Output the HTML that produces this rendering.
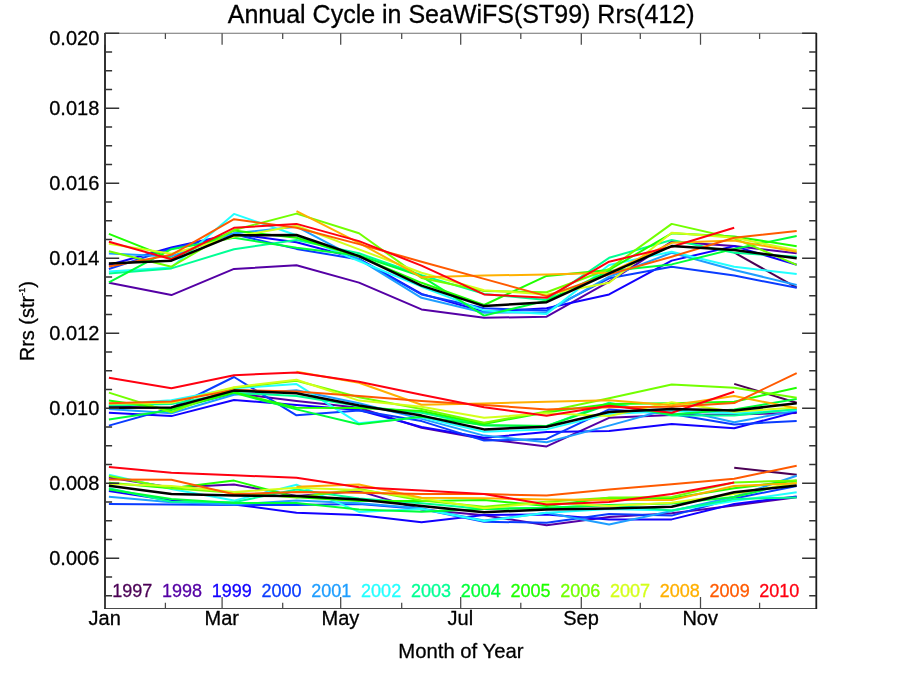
<!DOCTYPE html>
<html><head><meta charset="utf-8"><title>Annual Cycle in SeaWiFS(ST99) Rrs(412)</title>
<style>
html,body{margin:0;padding:0;background:#fff;}
body{width:900px;height:675px;overflow:hidden;position:relative;font-family:"Liberation Sans",sans-serif;}
svg{position:absolute;left:0;top:0;will-change:transform;}
text{font-family:"Liberation Sans",sans-serif;fill:#000;stroke:#000;stroke-width:0.3;}
.ax{stroke:#1c1c1c;stroke-width:1.8;fill:none;}
.axh{stroke:#707070;stroke-width:1.05;fill:none;}
.axb{stroke:#4a4a4a;stroke-width:1.2;fill:none;}
.tk{stroke:#333;stroke-width:1.4;fill:none;}
.tkx{stroke:#4a4a4a;stroke-width:1.25;fill:none;}
.ln{fill:none;stroke-width:2.0;stroke-linejoin:round;stroke-linecap:butt;}
.mn{fill:none;stroke:#000;stroke-width:2.5;stroke-linejoin:round;}
</style></head><body>
<svg width="900" height="675" viewBox="0 0 900 675">
<rect x="0" y="0" width="900" height="675" fill="#fff"/>

<g id="lines">
<polyline class="ln" stroke="#4b0055" points="734.2,252.5 796.7,287.6"/>
<polyline class="ln" stroke="#5500a5" points="108.9,282.8 171.4,295.1 234.0,268.9 296.5,265.3 359.0,282.6 421.5,309.4 484.1,317.8 546.6,316.7 609.1,281.7 671.7,241.7 734.2,246.1 796.7,253.3"/>
<polyline class="ln" stroke="#1200ff" points="108.9,265.0 171.4,247.5 234.0,233.7 296.5,242.2 359.0,258.9 421.5,293.9 484.1,311.7 546.6,308.3 609.1,294.4 671.7,260.6 734.2,246.1 796.7,264.8"/>
<polyline class="ln" stroke="#0a3cff" points="108.9,269.0 171.4,248.5 234.0,234.2 296.5,248.9 359.0,259.5 421.5,294.5 484.1,308.3 546.6,310.6 609.1,278.3 671.7,266.7 734.2,275.6 796.7,287.8"/>
<polyline class="ln" stroke="#1e9eff" points="108.9,253.4 171.4,256.4 234.0,233.3 296.5,226.7 359.0,259.4 421.5,297.8 484.1,312.8 546.6,312.2 609.1,276.7 671.7,252.8 734.2,270.0 796.7,285.0"/>
<polyline class="ln" stroke="#22ffff" points="108.9,271.4 171.4,267.5 234.0,213.9 296.5,235.3 359.0,261.0 421.5,286.7 484.1,310.6 546.6,313.9 609.1,265.0 671.7,251.7 734.2,266.7 796.7,273.9"/>
<polyline class="ln" stroke="#00ff94" points="108.9,273.4 171.4,268.4 234.0,249.2 296.5,240.0 359.0,253.3 421.5,275.3 484.1,293.9 546.6,300.0 609.1,257.8 671.7,240.0 734.2,252.8 796.7,256.7"/>
<polyline class="ln" stroke="#00ff38" points="108.9,282.3 171.4,249.2 234.0,237.8 296.5,247.8 359.0,255.5 421.5,276.3 484.1,315.6 546.6,300.6 609.1,271.0 671.7,264.4 734.2,248.9 796.7,236.1"/>
<polyline class="ln" stroke="#1eff00" points="108.9,233.9 171.4,258.7 234.0,230.6 296.5,237.8 359.0,256.5 421.5,282.8 484.1,305.0 546.6,275.9 609.1,270.0 671.7,233.3 734.2,236.4 796.7,246.3"/>
<polyline class="ln" stroke="#72ff00" points="108.9,251.2 171.4,266.7 234.0,230.0 296.5,213.6 359.0,233.3 421.5,278.0 484.1,291.1 546.6,292.2 609.1,269.0 671.7,223.9 734.2,238.3 796.7,264.8"/>
<polyline class="ln" stroke="#d4ff1a" points="108.9,243.8 171.4,253.7 234.0,236.7 296.5,225.8 359.0,249.4 421.5,272.8 484.1,290.3 546.6,294.4 609.1,282.8 671.7,232.8 734.2,237.8 796.7,250.3"/>
<polyline class="ln" stroke="#ffb000" points="296.5,211.1 359.0,242.8 421.5,277.2 484.1,275.6 546.6,274.4 609.1,272.8 671.7,242.8 734.2,240.6 796.7,251.7"/>
<polyline class="ln" stroke="#ff5a00" points="108.9,266.6 171.4,254.8 234.0,219.2 296.5,227.8 359.0,244.1 421.5,261.7 484.1,278.9 546.6,296.1 609.1,274.4 671.7,256.7 734.2,237.8 796.7,231.1"/>
<polyline class="ln" stroke="#ff0010" points="108.9,241.7 171.4,259.2 234.0,227.8 296.5,223.9 359.0,241.1 421.5,265.6 484.1,294.4 546.6,297.8 609.1,261.7 671.7,246.7 734.2,227.8"/>
<polyline class="mn" points="108.9,263.4 171.4,260.7 234.0,235.2 296.5,235.0 359.0,256.1 421.5,285.6 484.1,306.1 546.6,302.2 609.1,273.3 671.7,246.1 734.2,250.0 796.7,258.3"/>
<polyline class="ln" stroke="#4b0055" points="734.2,383.9 796.7,402.8"/>
<polyline class="ln" stroke="#5500a5" points="108.9,406.3 171.4,408.5 234.0,393.3 296.5,401.1 359.0,407.8 421.5,427.8 484.1,438.9 546.6,446.4 609.1,417.8 671.7,415.0 734.2,414.4 796.7,413.1"/>
<polyline class="ln" stroke="#1200ff" points="108.9,412.8 171.4,416.1 234.0,400.0 296.5,405.0 359.0,410.0 421.5,427.0 484.1,437.8 546.6,432.0 609.1,430.9 671.7,423.9 734.2,428.3 796.7,411.7"/>
<polyline class="ln" stroke="#0a3cff" points="108.9,425.6 171.4,408.0 234.0,377.0 296.5,415.3 359.0,410.5 421.5,421.1 484.1,440.6 546.6,438.9 609.1,409.4 671.7,413.9 734.2,424.4 796.7,420.9"/>
<polyline class="ln" stroke="#1e9eff" points="108.9,408.9 171.4,413.3 234.0,394.8 296.5,390.3 359.0,403.3 421.5,418.9 484.1,435.6 546.6,442.2 609.1,425.6 671.7,408.3 734.2,422.2 796.7,410.6"/>
<polyline class="ln" stroke="#22ffff" points="108.9,404.4 171.4,400.3 234.0,388.3 296.5,384.1 359.0,423.3 421.5,417.2 484.1,431.7 546.6,429.4 609.1,413.9 671.7,411.0 734.2,413.3 796.7,410.0"/>
<polyline class="ln" stroke="#00ff94" points="108.9,405.5 171.4,403.9 234.0,392.8 296.5,396.1 359.0,406.0 421.5,412.8 484.1,425.6 546.6,426.1 609.1,402.8 671.7,415.6 734.2,415.6 796.7,408.9"/>
<polyline class="ln" stroke="#00ff38" points="108.9,419.4 171.4,410.0 234.0,392.8 296.5,409.4 359.0,424.2 421.5,416.7 484.1,425.0 546.6,426.0 609.1,404.5 671.7,414.5 734.2,409.4 796.7,398.9"/>
<polyline class="ln" stroke="#1eff00" points="108.9,400.6 171.4,409.4 234.0,392.2 296.5,407.8 359.0,408.0 421.5,411.0 484.1,423.9 546.6,412.2 609.1,403.9 671.7,403.3 734.2,401.7 796.7,387.8"/>
<polyline class="ln" stroke="#72ff00" points="108.9,392.6 171.4,412.2 234.0,387.8 296.5,380.8 359.0,397.2 421.5,408.9 484.1,422.8 546.6,411.4 609.1,398.3 671.7,384.4 734.2,387.8 796.7,397.8"/>
<polyline class="ln" stroke="#d4ff1a" points="108.9,403.8 171.4,402.8 234.0,387.2 296.5,379.7 359.0,400.6 421.5,406.7 484.1,417.8 546.6,413.3 609.1,416.1 671.7,402.2 734.2,411.7 796.7,407.5"/>
<polyline class="ln" stroke="#ffb000" points="296.5,371.7 359.0,382.8 421.5,404.7 484.1,403.6 546.6,401.7 609.1,400.2 671.7,405.3 734.2,396.1 796.7,408.3"/>
<polyline class="ln" stroke="#ff5a00" points="108.9,403.3 171.4,401.4 234.0,390.0 296.5,391.4 359.0,396.1 421.5,400.9 484.1,405.0 546.6,409.4 609.1,407.2 671.7,406.7 734.2,403.1 796.7,373.1"/>
<polyline class="ln" stroke="#ff0010" points="108.9,377.8 171.4,388.3 234.0,375.2 296.5,372.6 359.0,381.7 421.5,394.7 484.1,407.2 546.6,415.8 609.1,405.8 671.7,412.8 734.2,391.7"/>
<polyline class="mn" points="108.9,407.8 171.4,407.4 234.0,390.6 296.5,393.3 359.0,405.6 421.5,415.6 484.1,429.4 546.6,426.7 609.1,412.0 671.7,409.1 734.2,410.6 796.7,403.3"/>
<polyline class="ln" stroke="#4b0055" points="734.2,467.8 796.7,474.7"/>
<polyline class="ln" stroke="#5500a5" points="108.9,477.6 171.4,487.6 234.0,484.4 296.5,496.0 359.0,491.1 421.5,509.5 484.1,515.3 546.6,525.2 609.1,517.0 671.7,513.3 734.2,505.6 796.7,497.2"/>
<polyline class="ln" stroke="#1200ff" points="108.9,491.1 171.4,500.6 234.0,504.4 296.5,512.8 359.0,515.0 421.5,522.2 484.1,515.0 546.6,514.4 609.1,519.4 671.7,519.4 734.2,503.9 796.7,496.5"/>
<polyline class="ln" stroke="#0a3cff" points="108.9,503.9 171.4,504.4 234.0,505.0 296.5,505.0 359.0,504.0 421.5,509.0 484.1,521.7 546.6,522.8 609.1,513.9 671.7,515.6 734.2,498.5 796.7,485.9"/>
<polyline class="ln" stroke="#1e9eff" points="108.9,496.7 171.4,502.2 234.0,504.4 296.5,500.6 359.0,503.3 421.5,508.3 484.1,520.6 546.6,512.8 609.1,524.4 671.7,511.0 734.2,496.7 796.7,475.8"/>
<polyline class="ln" stroke="#22ffff" points="108.9,474.7 171.4,488.9 234.0,500.6 296.5,484.7 359.0,511.9 421.5,508.9 484.1,521.1 546.6,512.8 609.1,509.0 671.7,510.6 734.2,501.1 796.7,492.2"/>
<polyline class="ln" stroke="#00ff94" points="108.9,488.3 171.4,501.7 234.0,502.2 296.5,489.4 359.0,498.5 421.5,503.3 484.1,508.9 546.6,507.8 609.1,505.0 671.7,510.6 734.2,498.9 796.7,497.6"/>
<polyline class="ln" stroke="#00ff38" points="108.9,489.4 171.4,498.9 234.0,503.1 296.5,503.1 359.0,509.4 421.5,511.7 484.1,508.9 546.6,508.0 609.1,505.0 671.7,503.5 734.2,497.0 796.7,482.0"/>
<polyline class="ln" stroke="#1eff00" points="108.9,482.8 171.4,488.3 234.0,480.6 296.5,497.2 359.0,501.1 421.5,501.1 484.1,500.0 546.6,506.0 609.1,497.8 671.7,498.3 734.2,488.3 796.7,480.6"/>
<polyline class="ln" stroke="#72ff00" points="108.9,476.1 171.4,488.3 234.0,492.8 296.5,497.5 359.0,489.0 421.5,500.6 484.1,506.7 546.6,501.7 609.1,497.8 671.7,497.0 734.2,482.4 796.7,480.6"/>
<polyline class="ln" stroke="#d4ff1a" points="108.9,483.9 171.4,486.1 234.0,492.0 296.5,487.8 359.0,490.0 421.5,498.3 484.1,508.3 546.6,502.5 609.1,506.1 671.7,502.8 734.2,493.9 796.7,482.8"/>
<polyline class="ln" stroke="#ffb000" points="296.5,486.7 359.0,484.4 421.5,497.8 484.1,498.3 546.6,499.4 609.1,500.0 671.7,500.0 734.2,486.1 796.7,483.3"/>
<polyline class="ln" stroke="#ff5a00" points="108.9,479.4 171.4,479.8 234.0,494.2 296.5,492.0 359.0,492.8 421.5,493.9 484.1,494.1 546.6,495.6 609.1,489.4 671.7,484.2 734.2,478.7 796.7,465.8"/>
<polyline class="ln" stroke="#ff0010" points="108.9,467.0 171.4,472.8 234.0,475.3 296.5,477.8 359.0,487.2 421.5,490.6 484.1,494.1 546.6,504.4 609.1,502.0 671.7,493.9 734.2,482.4"/>
<polyline class="mn" points="108.9,485.8 171.4,493.9 234.0,495.6 296.5,496.1 359.0,499.4 421.5,506.1 484.1,512.2 546.6,509.4 609.1,508.6 671.7,506.7 734.2,492.2 796.7,485.6"/>
</g>
<g id="axes">
<path class="axh" d="M104.4 33.3H816.9"/>
<path class="axb" d="M104.4 608.5H816.9"/>
<path class="ax" d="M105.0 32.9V609.0M816.3 32.9V609.0"/>
<path class="tkx" d="M105.0 608.5v-11.5M105.0 33.3v11.5"/>
<path class="tkx" d="M165.4 608.5v-5.8M165.4 33.3v5.8"/>
<path class="tkx" d="M222.1 608.5v-11.5M222.1 33.3v11.5"/>
<path class="tkx" d="M282.7 608.5v-5.8M282.7 33.3v5.8"/>
<path class="tkx" d="M340.7 608.5v-11.5M340.7 33.3v11.5"/>
<path class="tkx" d="M401.7 608.5v-5.8M401.7 33.3v5.8"/>
<path class="tkx" d="M460.7 608.5v-11.5M460.7 33.3v11.5"/>
<path class="tkx" d="M520.8 608.5v-5.8M520.8 33.3v5.8"/>
<path class="tkx" d="M581.3 608.5v-11.5M581.3 33.3v11.5"/>
<path class="tkx" d="M640.3 608.5v-5.8M640.3 33.3v5.8"/>
<path class="tkx" d="M700.5 608.5v-11.5M700.5 33.3v11.5"/>
<path class="tkx" d="M759.6 608.5v-5.8M759.6 33.3v5.8"/>
<path class="tk" d="M105.0 595.8h7.1M816.3 595.8h-7.1"/>
<path class="tk" d="M105.0 577.0h7.1M816.3 577.0h-7.1"/>
<path class="tk" d="M105.0 558.3h14.2M816.3 558.3h-14.2"/>
<path class="tk" d="M105.0 539.5h7.1M816.3 539.5h-7.1"/>
<path class="tk" d="M105.0 520.8h7.1M816.3 520.8h-7.1"/>
<path class="tk" d="M105.0 502.0h7.1M816.3 502.0h-7.1"/>
<path class="tk" d="M105.0 483.3h14.2M816.3 483.3h-14.2"/>
<path class="tk" d="M105.0 464.5h7.1M816.3 464.5h-7.1"/>
<path class="tk" d="M105.0 445.8h7.1M816.3 445.8h-7.1"/>
<path class="tk" d="M105.0 427.0h7.1M816.3 427.0h-7.1"/>
<path class="tk" d="M105.0 408.3h14.2M816.3 408.3h-14.2"/>
<path class="tk" d="M105.0 389.5h7.1M816.3 389.5h-7.1"/>
<path class="tk" d="M105.0 370.8h7.1M816.3 370.8h-7.1"/>
<path class="tk" d="M105.0 352.0h7.1M816.3 352.0h-7.1"/>
<path class="tk" d="M105.0 333.3h14.2M816.3 333.3h-14.2"/>
<path class="tk" d="M105.0 314.5h7.1M816.3 314.5h-7.1"/>
<path class="tk" d="M105.0 295.8h7.1M816.3 295.8h-7.1"/>
<path class="tk" d="M105.0 277.0h7.1M816.3 277.0h-7.1"/>
<path class="tk" d="M105.0 258.3h14.2M816.3 258.3h-14.2"/>
<path class="tk" d="M105.0 239.5h7.1M816.3 239.5h-7.1"/>
<path class="tk" d="M105.0 220.8h7.1M816.3 220.8h-7.1"/>
<path class="tk" d="M105.0 202.0h7.1M816.3 202.0h-7.1"/>
<path class="tk" d="M105.0 183.3h14.2M816.3 183.3h-14.2"/>
<path class="tk" d="M105.0 164.5h7.1M816.3 164.5h-7.1"/>
<path class="tk" d="M105.0 145.8h7.1M816.3 145.8h-7.1"/>
<path class="tk" d="M105.0 127.0h7.1M816.3 127.0h-7.1"/>
<path class="tk" d="M105.0 108.3h14.2M816.3 108.3h-14.2"/>
<path class="tk" d="M105.0 89.5h7.1M816.3 89.5h-7.1"/>
<path class="tk" d="M105.0 70.8h7.1M816.3 70.8h-7.1"/>
<path class="tk" d="M105.0 52.0h7.1M816.3 52.0h-7.1"/>
<path class="tk" d="M105.0 33.3h14.2M816.3 33.3h-14.2"/>
</g>
<g id="labels">
<text x="461.2" y="23.4" font-size="25" text-anchor="middle">Annual Cycle in SeaWiFS(ST99) Rrs(412)</text>
<text x="99.3" y="564.6" font-size="20" text-anchor="end">0.006</text>
<text x="99.3" y="489.6" font-size="20" text-anchor="end">0.008</text>
<text x="99.3" y="414.6" font-size="20" text-anchor="end">0.010</text>
<text x="99.3" y="339.6" font-size="20" text-anchor="end">0.012</text>
<text x="99.3" y="264.6" font-size="20" text-anchor="end">0.014</text>
<text x="99.3" y="189.6" font-size="20" text-anchor="end">0.016</text>
<text x="99.3" y="114.6" font-size="20" text-anchor="end">0.018</text>
<text x="99.3" y="45.0" font-size="20" text-anchor="end">0.020</text>
<text x="104.7" y="625.4" font-size="20" text-anchor="middle">Jan</text>
<text x="221.8" y="625.4" font-size="20" text-anchor="middle">Mar</text>
<text x="340.4" y="625.4" font-size="20" text-anchor="middle">May</text>
<text x="460.4" y="625.4" font-size="20" text-anchor="middle">Jul</text>
<text x="581.0" y="625.4" font-size="20" text-anchor="middle">Sep</text>
<text x="700.2" y="625.4" font-size="20" text-anchor="middle">Nov</text>
<text x="460.9" y="658.4" font-size="20.3" text-anchor="middle">Month of Year</text>
<text transform="translate(34,321.2) rotate(-90)" font-size="20" text-anchor="middle">Rrs (str<tspan font-size="9" dy="-9.1">-1</tspan><tspan dy="9.1">)</tspan></text>
<text x="112.2" y="596.6" font-size="18" style="fill:#4b0055;stroke:#4b0055">1997</text>
<text x="162.0" y="596.6" font-size="18" style="fill:#5500a5;stroke:#5500a5">1998</text>
<text x="211.8" y="596.6" font-size="18" style="fill:#1200ff;stroke:#1200ff">1999</text>
<text x="261.5" y="596.6" font-size="18" style="fill:#0a3cff;stroke:#0a3cff">2000</text>
<text x="311.3" y="596.6" font-size="18" style="fill:#1e9eff;stroke:#1e9eff">2001</text>
<text x="361.1" y="596.6" font-size="18" style="fill:#22ffff;stroke:#22ffff">2002</text>
<text x="410.9" y="596.6" font-size="18" style="fill:#00ff94;stroke:#00ff94">2003</text>
<text x="460.7" y="596.6" font-size="18" style="fill:#00ff38;stroke:#00ff38">2004</text>
<text x="510.4" y="596.6" font-size="18" style="fill:#1eff00;stroke:#1eff00">2005</text>
<text x="560.2" y="596.6" font-size="18" style="fill:#72ff00;stroke:#72ff00">2006</text>
<text x="610.0" y="596.6" font-size="18" style="fill:#d4ff1a;stroke:#d4ff1a">2007</text>
<text x="659.8" y="596.6" font-size="18" style="fill:#ffb000;stroke:#ffb000">2008</text>
<text x="709.6" y="596.6" font-size="18" style="fill:#ff5a00;stroke:#ff5a00">2009</text>
<text x="759.3" y="596.6" font-size="18" style="fill:#ff0010;stroke:#ff0010">2010</text>
</g>
</svg></body></html>
